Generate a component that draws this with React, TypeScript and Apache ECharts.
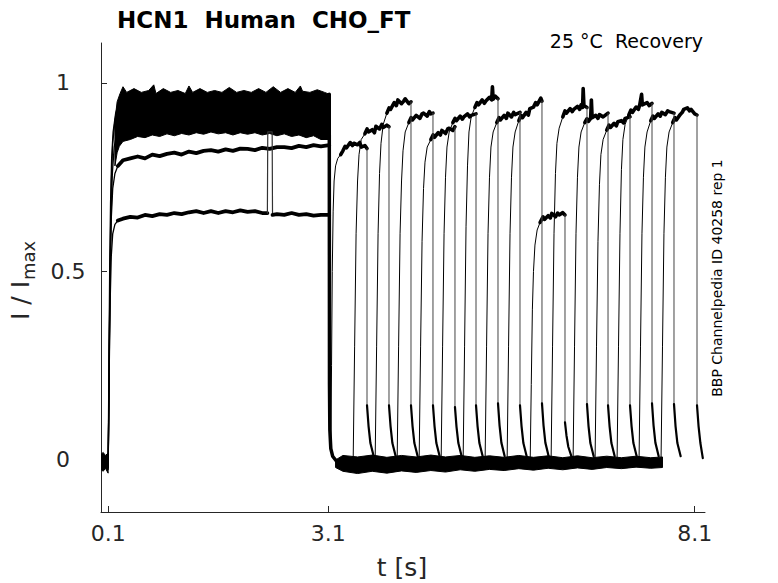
import React, { useEffect, useRef } from 'react';
import * as echarts from 'echarts';

// ---------- axis ticks ----------
const xTickValues = [0.1, 3.1, 8.1];
const yTickValues = [0, 0.5, 1];
const xRange = [0, 8.24];
const yRange = [-0.138, 1.106];

// ---------- texts ----------
const titleText = 'HCN1  Human  CHO_FT';
const conditionText = '25 \u00B0C  Recovery';
const sideText = 'BBP Channelpedia ID 40258 rep 1';
const xName = 't [s]';
const yNameMain = 'I / I';
const yNameSub = 'max';

// ---------- noisy bands (envelopes: [t, I]) ----------
const preBaseUpper = [[0, 0.015], [0.03, 0.02], [0.06, 0.012], [0.097, 0.018]];
const preBaseLower = [[0, -0.025], [0.03, -0.03], [0.06, -0.022], [0.097, -0.035]];

const firstBandUpper = [
  [0.19, 0.9], [0.22, 0.95], [0.26, 0.972], [0.3, 0.99], [0.35, 0.975], [0.45, 0.985], [0.55, 0.975],
  [0.65, 0.98], [0.72, 0.995], [0.75, 0.972], [0.85, 0.985], [0.95, 0.975], [1.05, 0.98], [1.15, 0.972],
  [1.2, 0.992], [1.25, 0.975], [1.35, 0.985], [1.45, 0.975], [1.55, 0.98], [1.65, 0.975], [1.75, 0.988],
  [1.85, 0.975], [1.95, 0.98], [2.05, 0.975], [2.15, 0.985], [2.25, 0.975], [2.35, 0.99], [2.45, 0.975],
  [2.55, 0.985], [2.65, 0.975], [2.72, 0.992], [2.75, 0.978], [2.85, 0.975], [2.95, 0.982], [3.05, 0.975],
  [3.115, 0.97],
];
const firstBandLower = [
  [0.19, 0.78], [0.22, 0.815], [0.25, 0.832], [0.3, 0.845], [0.4, 0.85], [0.5, 0.858], [0.6, 0.855],
  [0.7, 0.862], [0.8, 0.858], [0.9, 0.865], [1.0, 0.86], [1.1, 0.866], [1.2, 0.862], [1.3, 0.868],
  [1.4, 0.864], [1.5, 0.87], [1.6, 0.865], [1.7, 0.868], [1.8, 0.862], [1.9, 0.868], [2.0, 0.864],
  [2.1, 0.868], [2.2, 0.862], [2.3, 0.866], [2.4, 0.86], [2.5, 0.865], [2.6, 0.858], [2.7, 0.862],
  [2.8, 0.855], [2.9, 0.86], [3.0, 0.85], [3.115, 0.85],
];

const restBaseUpper = [
  [3.2, 0.0], [3.3, 0.012], [3.5, 0.008], [3.7, 0.013], [3.9, 0.007], [4.1, 0.012], [4.3, 0.008],
  [4.5, 0.013], [4.7, 0.008], [4.9, 0.012], [5.1, 0.007], [5.3, 0.011], [5.5, 0.007], [5.7, 0.012],
  [5.9, 0.007], [6.1, 0.011], [6.3, 0.006], [6.5, 0.011], [6.7, 0.006], [6.9, 0.01], [7.1, 0.006],
  [7.3, 0.01], [7.5, 0.006], [7.66, 0.008],
];
const restBaseLower = [
  [3.2, -0.02], [3.3, -0.03], [3.5, -0.036], [3.7, -0.03], [3.9, -0.035], [4.1, -0.029], [4.3, -0.033],
  [4.5, -0.028], [4.7, -0.032], [4.9, -0.026], [5.1, -0.03], [5.3, -0.025], [5.5, -0.028], [5.7, -0.023],
  [5.9, -0.027], [6.1, -0.022], [6.3, -0.026], [6.5, -0.021], [6.7, -0.025], [6.9, -0.02], [7.1, -0.023],
  [7.3, -0.019], [7.5, -0.022], [7.66, -0.02],
];

// ---------- first pulse traces ----------
const firstRiseBand = [
  [[0.097, -0.025], [0.1, 0.05], [0.108, 0.25], [0.118, 0.5], [0.13, 0.68], [0.145, 0.8], [0.165, 0.87], [0.2, 0.92], [0.24, 0.945]],
  [[0.097, -0.02], [0.102, 0.05], [0.112, 0.25], [0.124, 0.48], [0.138, 0.65], [0.155, 0.76], [0.18, 0.83], [0.22, 0.87], [0.27, 0.885]],
  [[0.097, -0.02], [0.104, 0.1], [0.115, 0.35], [0.128, 0.58], [0.142, 0.74], [0.16, 0.84], [0.19, 0.9], [0.23, 0.93]],
];
const firstTraceHighRise = [
  [0.097, -0.02], [0.103, 0.08], [0.113, 0.3], [0.125, 0.5], [0.14, 0.64], [0.16, 0.72], [0.19, 0.76], [0.23, 0.78],
];
const firstTraceHigh = [
  [0.23, 0.78], [0.3, 0.795], [0.4, 0.8], [0.5, 0.805], [0.6, 0.8], [0.7, 0.81], [0.8, 0.806], [0.9, 0.812], [1.0, 0.815],
  [1.1, 0.81], [1.2, 0.818], [1.3, 0.814], [1.4, 0.82], [1.5, 0.822], [1.6, 0.818], [1.7, 0.824], [1.8, 0.82],
  [1.9, 0.826], [2.0, 0.825], [2.1, 0.822], [2.2, 0.828], [2.3, 0.825], [2.4, 0.83], [2.5, 0.83], [2.6, 0.827],
  [2.7, 0.833], [2.8, 0.83], [2.9, 0.835], [3.0, 0.832], [3.114, 0.835],
];
const firstTraceLowRise = [
  [0.097, -0.02], [0.103, 0.07], [0.113, 0.25], [0.125, 0.42], [0.14, 0.54], [0.16, 0.6], [0.19, 0.625], [0.23, 0.635],
];
const firstTraceLowA = [
  [0.23, 0.635], [0.3, 0.64], [0.4, 0.645], [0.5, 0.643], [0.6, 0.65], [0.7, 0.647], [0.8, 0.652], [0.9, 0.65], [1.0, 0.655],
  [1.1, 0.652], [1.2, 0.657], [1.3, 0.66], [1.4, 0.655], [1.5, 0.66], [1.6, 0.655], [1.7, 0.66], [1.8, 0.657],
  [1.9, 0.662], [2.0, 0.658], [2.1, 0.66], [2.2, 0.655], [2.27, 0.655],
];
const firstTraceLowGlitch = [[2.27, 0.655], [2.275, 0.87], [2.335, 0.87], [2.34, 0.65]];
const firstTraceLowB = [
  [2.34, 0.65], [2.4, 0.652], [2.5, 0.65], [2.6, 0.655], [2.7, 0.65], [2.8, 0.652], [2.9, 0.648], [3.0, 0.65], [3.114, 0.65],
];
const firstOffDecay = [
  [3.114, 0.97], [3.117, 0.2], [3.122, 0.08], [3.135, 0.03], [3.16, 0.01], [3.2, 0.0], [3.24, -0.008], [3.3, -0.012],
];

// ---------- second (recovery) pulses, one entry per sweep ----------
const secondRise = [
  [[3.135, 0.03], [3.145, 0.25], [3.155, 0.5], [3.167, 0.66], [3.18, 0.74], [3.2, 0.78], [3.23, 0.8], [3.27, 0.81]],
  [[3.44, -0.005], [3.46, 0.3], [3.48, 0.6], [3.5, 0.74], [3.52, 0.81], [3.55, 0.85], [3.6, 0.865]],
  [[3.74, -0.005], [3.76, 0.3], [3.78, 0.6], [3.8, 0.76], [3.82, 0.84], [3.85, 0.89], [3.9, 0.92]],
  [[4.04, -0.005], [4.06, 0.3], [4.08, 0.6], [4.1, 0.74], [4.12, 0.82], [4.15, 0.87], [4.2, 0.895]],
  [[4.34, -0.005], [4.36, 0.3], [4.38, 0.58], [4.4, 0.72], [4.42, 0.79], [4.45, 0.83], [4.5, 0.85]],
  [[4.64, -0.005], [4.66, 0.3], [4.68, 0.6], [4.7, 0.75], [4.72, 0.83], [4.75, 0.87], [4.8, 0.895]],
  [[4.94, -0.005], [4.96, 0.3], [4.98, 0.62], [5.0, 0.78], [5.02, 0.87], [5.05, 0.91], [5.1, 0.935]],
  [[5.24, -0.005], [5.26, 0.3], [5.28, 0.6], [5.3, 0.75], [5.32, 0.83], [5.35, 0.87], [5.4, 0.895]],
  [[5.54, -0.005], [5.56, 0.3], [5.58, 0.6], [5.6, 0.75], [5.62, 0.83], [5.65, 0.87], [5.7, 0.9]],
  [[5.855, -0.005], [5.87, 0.2], [5.885, 0.4], [5.9, 0.5], [5.92, 0.57], [5.95, 0.61], [5.99, 0.63]],
  [[6.14, -0.005], [6.16, 0.3], [6.18, 0.6], [6.2, 0.76], [6.22, 0.84], [6.25, 0.88], [6.3, 0.91]],
  [[6.44, -0.005], [6.46, 0.3], [6.48, 0.6], [6.5, 0.75], [6.52, 0.83], [6.55, 0.87], [6.6, 0.895]],
  [[6.74, -0.005], [6.76, 0.3], [6.78, 0.58], [6.8, 0.73], [6.82, 0.81], [6.85, 0.85], [6.9, 0.875]],
  [[7.04, -0.005], [7.06, 0.3], [7.08, 0.6], [7.1, 0.77], [7.12, 0.85], [7.15, 0.89], [7.2, 0.915]],
  [[7.34, -0.005], [7.36, 0.3], [7.38, 0.6], [7.4, 0.75], [7.42, 0.83], [7.45, 0.87], [7.5, 0.9]],
  [[7.64, -0.005], [7.66, 0.3], [7.68, 0.6], [7.7, 0.75], [7.72, 0.83], [7.75, 0.87], [7.8, 0.895]],
];
const secondPlateau = [
  [[3.27, 0.81], [3.3, 0.82], [3.33, 0.832], [3.35, 0.828], [3.4, 0.842], [3.43, 0.834], [3.45, 0.84], [3.5, 0.836], [3.53, 0.842], [3.55, 0.83], [3.6, 0.834], [3.629, 0.826]],
  [[3.6, 0.865], [3.63, 0.878], [3.65, 0.87], [3.7, 0.876], [3.73, 0.868], [3.75, 0.885], [3.8, 0.878], [3.83, 0.89], [3.85, 0.882], [3.9, 0.888], [3.929, 0.884]],
  [[3.9, 0.92], [3.93, 0.934], [3.95, 0.93], [4.0, 0.948], [4.03, 0.94], [4.05, 0.955], [4.1, 0.945], [4.13, 0.952], [4.15, 0.958], [4.2, 0.945], [4.229, 0.95]],
  [[4.2, 0.895], [4.23, 0.908], [4.25, 0.902], [4.3, 0.914], [4.35, 0.906], [4.38, 0.918], [4.4, 0.92], [4.45, 0.912], [4.48, 0.924], [4.5, 0.918], [4.529, 0.92]],
  [[4.5, 0.85], [4.53, 0.862], [4.55, 0.856], [4.6, 0.868], [4.63, 0.862], [4.65, 0.874], [4.7, 0.866], [4.73, 0.878], [4.75, 0.88], [4.8, 0.874], [4.829, 0.884]],
  [[4.8, 0.895], [4.83, 0.906], [4.85, 0.9], [4.9, 0.912], [4.93, 0.904], [4.95, 0.91], [5.0, 0.918], [5.03, 0.91], [5.05, 0.914], [5.116, 0.918]],
  [[5.1, 0.935], [5.13, 0.948], [5.15, 0.942], [5.2, 0.955], [5.23, 0.946], [5.25, 0.952], [5.3, 0.962], [5.33, 0.955], [5.34, 0.99], [5.35, 0.957], [5.38, 0.965], [5.416, 0.958]],
  [[5.4, 0.895], [5.43, 0.908], [5.45, 0.902], [5.5, 0.914], [5.53, 0.906], [5.55, 0.92], [5.6, 0.91], [5.63, 0.922], [5.65, 0.916], [5.716, 0.922]],
  [[5.7, 0.9], [5.73, 0.914], [5.75, 0.908], [5.8, 0.922], [5.83, 0.915], [5.85, 0.932], [5.9, 0.936], [5.93, 0.948], [5.95, 0.942], [6.0, 0.96], [6.016, 0.952]],
  [[5.99, 0.63], [6.03, 0.645], [6.05, 0.638], [6.1, 0.648], [6.13, 0.642], [6.15, 0.654], [6.2, 0.645], [6.23, 0.655], [6.25, 0.65], [6.3, 0.656], [6.33, 0.65]],
  [[6.3, 0.91], [6.33, 0.926], [6.35, 0.92], [6.4, 0.932], [6.43, 0.924], [6.45, 0.93], [6.5, 0.938], [6.53, 0.93], [6.55, 0.942], [6.57, 0.935], [6.578, 0.985], [6.588, 0.94], [6.63, 0.935]],
  [[6.6, 0.895], [6.63, 0.905], [6.65, 0.898], [6.68, 0.906], [6.69, 0.955], [6.7, 0.908], [6.75, 0.914], [6.78, 0.906], [6.8, 0.916], [6.85, 0.91], [6.917, 0.92]],
  [[6.9, 0.875], [6.93, 0.888], [6.95, 0.882], [7.0, 0.893], [7.03, 0.886], [7.05, 0.897], [7.1, 0.9], [7.13, 0.894], [7.15, 0.906], [7.217, 0.91]],
  [[7.2, 0.915], [7.23, 0.928], [7.25, 0.922], [7.3, 0.936], [7.33, 0.93], [7.35, 0.942], [7.375, 0.97], [7.385, 0.942], [7.45, 0.948], [7.48, 0.94], [7.517, 0.946]],
  [[7.5, 0.9], [7.53, 0.912], [7.55, 0.906], [7.6, 0.918], [7.63, 0.912], [7.65, 0.922], [7.7, 0.916], [7.73, 0.926], [7.75, 0.924], [7.817, 0.92]],
  [[7.8, 0.895], [7.83, 0.908], [7.85, 0.902], [7.9, 0.916], [7.93, 0.922], [7.95, 0.93], [8.0, 0.934], [8.03, 0.926], [8.05, 0.93], [8.1, 0.918], [8.131, 0.915]],
];
const secondTail = [
  [[3.629, 0.826], [3.629, 0.145], [3.65, 0.09], [3.675, 0.045], [3.72, 0.01]],
  [[3.929, 0.884], [3.929, 0.145], [3.95, 0.09], [3.975, 0.045], [4.02, 0.01]],
  [[4.229, 0.95], [4.229, 0.145], [4.25, 0.09], [4.275, 0.045], [4.32, 0.01]],
  [[4.529, 0.92], [4.529, 0.145], [4.55, 0.09], [4.575, 0.045], [4.62, 0.01]],
  [[4.829, 0.884], [4.829, 0.14], [4.85, 0.088], [4.875, 0.045], [4.92, 0.01]],
  [[5.116, 0.918], [5.116, 0.145], [5.137, 0.09], [5.162, 0.045], [5.207, 0.01]],
  [[5.416, 0.958], [5.416, 0.15], [5.437, 0.092], [5.462, 0.046], [5.507, 0.01]],
  [[5.716, 0.922], [5.716, 0.145], [5.737, 0.09], [5.762, 0.045], [5.807, 0.01]],
  [[6.016, 0.952], [6.016, 0.15], [6.037, 0.092], [6.062, 0.046], [6.107, 0.01]],
  [[6.33, 0.65], [6.33, 0.1], [6.35, 0.065], [6.375, 0.035], [6.42, 0.008]],
  [[6.63, 0.935], [6.63, 0.148], [6.651, 0.09], [6.676, 0.045], [6.721, 0.01]],
  [[6.917, 0.92], [6.917, 0.145], [6.938, 0.09], [6.963, 0.045], [7.008, 0.01]],
  [[7.217, 0.91], [7.217, 0.145], [7.238, 0.09], [7.263, 0.045], [7.308, 0.01]],
  [[7.517, 0.946], [7.517, 0.15], [7.538, 0.092], [7.563, 0.046], [7.608, 0.01]],
  [[7.817, 0.92], [7.817, 0.148], [7.838, 0.09], [7.863, 0.045], [7.908, 0.01]],
  [[8.131, 0.915], [8.131, 0.145], [8.152, 0.09], [8.177, 0.045], [8.21, 0.005]],
];

const FONT = '"DejaVu Sans", "Noto Sans", sans-serif';
const AXIS_COLOR = '#262626';

function lineSeries(data: number[][], width: number, color = '#000', z = 3) {
  return {
    type: 'line',
    data,
    symbol: 'none',
    showSymbol: false,
    silent: true,
    z,
    lineStyle: { color, width, join: 'round', cap: 'round' },
  };
}

function buildOption() {
  const bandPolys = [
    [...preBaseUpper, ...[...preBaseLower].reverse()],
    [...firstBandUpper, ...[...firstBandLower].reverse()],
    [...restBaseUpper, ...[...restBaseLower].reverse()],
  ];

  const series: any[] = [
    {
      type: 'custom',
      silent: true,
      z: 2,
      clip: true,
      data: bandPolys.map((p) => p[0]),
      renderItem: (params: any, api: any) => ({
        type: 'polygon',
        shape: { points: bandPolys[params.dataIndex].map((p) => api.coord(p)) },
        style: { fill: '#000', stroke: '#000', lineWidth: 1 },
      }),
    },
  ];
  firstRiseBand.forEach((d) => series.push(lineSeries(d, 1.3)));
  series.push(lineSeries(firstTraceHighRise, 1.3));
  series.push(lineSeries(firstTraceHigh, 3.8));
  series.push(lineSeries(firstTraceLowRise, 1.3));
  series.push(lineSeries(firstTraceLowA, 3.8));
  series.push(lineSeries(firstTraceLowGlitch, 1.2, '#333'));
  series.push(lineSeries(firstTraceLowB, 3.8));
  series.push(lineSeries(firstOffDecay, 3.5));
  secondRise.forEach((d) => series.push(lineSeries(d, 1)));
  secondPlateau.forEach((d) => series.push(lineSeries(d, 3.6)));
  secondTail.forEach((d) => {
    series.push(lineSeries(d.slice(0, 2), 1, '#444'));
    series.push(lineSeries(d.slice(1), 2.2));
  });

  return {
    animation: false,
    backgroundColor: '#fff',
    textStyle: { fontFamily: FONT },
    grid: { left: 101, top: 43, width: 604, height: 469, containLabel: false, outerBoundsMode: 'none' },
    xAxis: {
      type: 'value',
      min: xRange[0],
      max: xRange[1],
      axisLine: { show: true, onZero: false, lineStyle: { color: AXIS_COLOR, width: 1 } },
      axisTick: { show: true, inside: true, length: 6, customValues: xTickValues, lineStyle: { color: AXIS_COLOR } },
      axisLabel: {
        customValues: xTickValues,
        formatter: (v: number) => String(v),
        color: AXIS_COLOR,
        fontSize: 22,
        fontFamily: FONT,
        margin: 10,
      },
      splitLine: { show: false },
    },
    yAxis: {
      type: 'value',
      min: yRange[0],
      max: yRange[1],
      axisLine: { show: true, onZero: false, lineStyle: { color: AXIS_COLOR, width: 1 } },
      axisTick: { show: true, inside: true, length: 6, customValues: yTickValues, lineStyle: { color: AXIS_COLOR } },
      axisLabel: {
        customValues: yTickValues,
        formatter: (v: number) => (v === 0.5 ? `{h|${v}}` : `{n|${v}}`),
        color: AXIS_COLOR,
        fontSize: 22,
        fontFamily: FONT,
        align: 'center',
        margin: 38,
        rich: {
          h: { fontSize: 22, fontFamily: FONT, color: AXIS_COLOR, padding: [0, 0, 0, 10] },
          n: { fontSize: 22, fontFamily: FONT, color: AXIS_COLOR },
        },
      },
      splitLine: { show: false },
    },
    graphic: [
      {
        type: 'text',
        left: 117,
        top: 8,
        style: { text: titleText, font: `bold 23px ${FONT}`, fill: '#000' },
      },
      {
        type: 'text',
        right: 75,
        top: 31,
        style: { text: conditionText, font: `19px ${FONT}`, fill: '#000' },
      },
      {
        type: 'text',
        x: 402,
        y: 567,
        style: { text: xName, font: `25px ${FONT}`, fill: AXIS_COLOR, textAlign: 'center', textVerticalAlign: 'middle', align: 'center', verticalAlign: 'middle' },
      },
      {
        type: 'group',
        x: 20,
        y: 320,
        rotation: Math.PI / 2,
        children: [
          {
            type: 'text',
            x: 0,
            y: 0,
            style: { text: yNameMain, font: `25px ${FONT}`, fill: AXIS_COLOR, textAlign: 'left', textVerticalAlign: 'middle', align: 'left', verticalAlign: 'middle' },
          },
          {
            type: 'text',
            x: 40,
            y: 8,
            style: { text: yNameSub, font: `18px ${FONT}`, fill: AXIS_COLOR, textAlign: 'left', textVerticalAlign: 'middle', align: 'left', verticalAlign: 'middle' },
          },
        ],
      },
      {
        type: 'text',
        x: 717,
        y: 278,
        rotation: Math.PI / 2,
        style: { text: sideText, font: `14px ${FONT}`, fill: '#000', textAlign: 'center', textVerticalAlign: 'middle', align: 'center', verticalAlign: 'middle' },
      },
    ],
    series,
  };
}

export default function App() {
  const ref = useRef<HTMLDivElement>(null);
  useEffect(() => {
    if (!ref.current) return;
    const chart = echarts.init(ref.current, null, { renderer: 'svg' });
    chart.setOption(buildOption() as any);
    return () => chart.dispose();
  }, []);
  return (
    <div
      ref={ref}
      style={{ position: 'fixed', left: 0, top: 0, width: 778, height: 583, background: '#fff' }}
    />
  );
}
